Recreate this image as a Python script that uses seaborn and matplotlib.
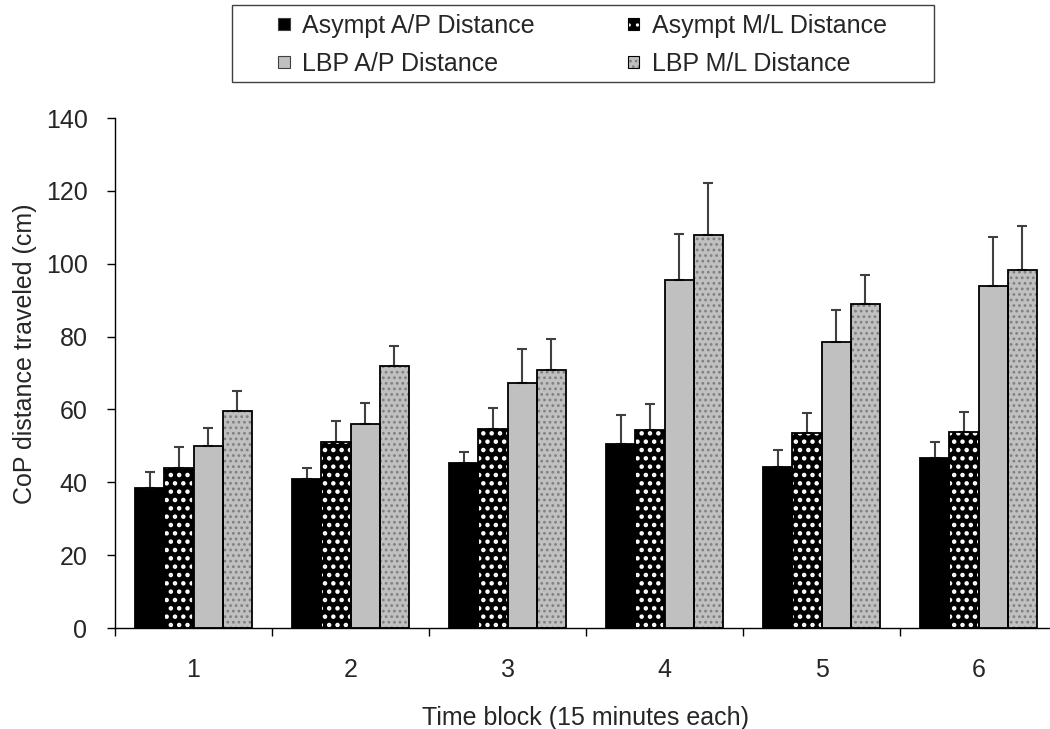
import numpy as np
import pandas as pd
import matplotlib
matplotlib.use("Agg")
import matplotlib.pyplot as plt
from matplotlib.patches import Patch, Rectangle
import seaborn as sns

blocks = ["1", "2", "3", "4", "5", "6"]
series = ["Asympt A/P Distance", "Asympt M/L Distance",
          "LBP A/P Distance", "LBP M/L Distance"]

# bar heights (cm)
asympt_ap = [38.3, 40.8, 45.2, 50.4, 44.1, 46.8]
asympt_ml = [44.0, 51.1, 54.7, 54.3, 53.4, 53.9]
lbp_ap = [50.0, 56.1, 67.3, 95.6, 78.5, 94.0]
lbp_ml = [59.6, 72.0, 70.7, 107.9, 89.0, 98.2]

# upper error bars
asympt_ap_err = [4.5, 3.2, 3.1, 8.2, 4.7, 4.3]
asympt_ml_err = [5.7, 5.6, 5.7, 7.3, 5.7, 5.5]
lbp_ap_err = [5.0, 5.6, 9.3, 12.6, 8.8, 13.4]
lbp_ml_err = [5.4, 5.5, 8.6, 14.3, 7.9, 12.2]

values = [asympt_ap, asympt_ml, lbp_ap, lbp_ml]
errors = [asympt_ap_err, asympt_ml_err, lbp_ap_err, lbp_ml_err]

# face colour, hatch, hatch colour, hatch width for each series
faces = ["black", "black", "#c0c0c0", "#c0c0c0"]
hatches = [None, "..", None, "..."]
hatch_colors = [None, "white", None, "#808080"]
hatch_widths = [1.0, 2.0, 1.0, 1.2]

rows = []
for s, vals in zip(series, values):
    for b, v in zip(blocks, vals):
        rows.append({"block": b, "series": s, "value": v})
df = pd.DataFrame(rows)

sns.set_style("ticks")
plt.rcParams["font.family"] = ["Liberation Sans", "DejaVu Sans"]
plt.rcParams["hatch.linewidth"] = 1.2
FS = 18

fig = plt.figure(figsize=(10.5, 7.29), dpi=100)
ax = fig.add_axes([115 / 1050, 1 - 628 / 729, 942 / 1050, 510 / 729])

sns.barplot(data=df, x="block", y="value", hue="series", order=blocks,
            hue_order=series, palette=faces, saturation=1, width=0.74,
            errorbar=None, edgecolor="none", linewidth=0, legend=False, ax=ax)

bar_groups = list(ax.containers)
for i, cont in enumerate(bar_groups):
    xs = []
    for p in cont.patches:
        if hatches[i]:
            p.set_hatch(hatches[i])
            p.set_edgecolor(hatch_colors[i])
            p.set_linewidth(0)
            if hasattr(p, "set_hatch_linewidth"):
                p.set_hatch_linewidth(hatch_widths[i])
        ax.add_patch(Rectangle(p.get_xy(), p.get_width(), p.get_height(),
                               fill=False, edgecolor="black", linewidth=1.3,
                               zorder=p.get_zorder() + 0.1))
        xs.append(p.get_x() + p.get_width() / 2)
    ax.errorbar(xs, values[i], yerr=[np.zeros(len(xs)), errors[i]], fmt="none",
                ecolor="#404040", elinewidth=1.5, capsize=3.3, capthick=1.5,
                zorder=1)

ax.set_xlim(-0.5, 5.5)
ax.set_ylim(0, 140)
ax.set_yticks(range(0, 141, 20))
ax.set_xticks(range(len(blocks)))
ax.set_xticklabels(blocks)
ax.set_xticks(np.arange(-0.5, len(blocks), 1), minor=True)
ax.tick_params(axis="x", which="major", length=0, pad=21.5, labelsize=FS)
ax.tick_params(axis="x", which="minor", length=5.8, width=1, direction="out",
               color="black")
ax.tick_params(axis="y", length=5.8, width=1, pad=14, labelsize=FS,
               direction="out", color="black")

sns.despine(ax=ax)
for sp in ["left", "bottom"]:
    ax.spines[sp].set_color("black")
    ax.spines[sp].set_linewidth(1)

ax.set_xlabel("Time block (15 minutes each)", fontsize=FS)
ax.set_ylabel("CoP distance traveled (cm)", fontsize=FS)
ax.xaxis.set_label_coords(0.5, -0.152)
ax.yaxis.set_label_coords(-0.083, 0.537)

handles = []
for f, h, hc in zip(faces, hatches, hatch_colors):
    if h:
        handles.append((Patch(facecolor=f, hatch=h, edgecolor=hc, linewidth=0),
                        Patch(fill=False, edgecolor="black", linewidth=0.8)))
    else:
        handles.append(Patch(facecolor=f, edgecolor="#404040", linewidth=0.8))

# legend fills column-wise; reorder so rows read Asympt, then LBP
order = [0, 2, 1, 3]
fig.legend([handles[k] for k in order], [series[k] for k in order],
           loc="center", bbox_to_anchor=(582.5 / 1050, 1 - 45 / 729), ncol=2,
           frameon=False, fontsize=FS, handlelength=0.47, handleheight=0.36,
           handletextpad=0.5, columnspacing=3.7, labelspacing=0.54,
           borderpad=0)
fig.add_artist(Rectangle((232 / 1050, 1 - 82 / 729), 702 / 1050, 77 / 729,
                         transform=fig.transFigure, fill=False,
                         edgecolor="#404040", linewidth=1))

fig.savefig("out.png", dpi=100)
